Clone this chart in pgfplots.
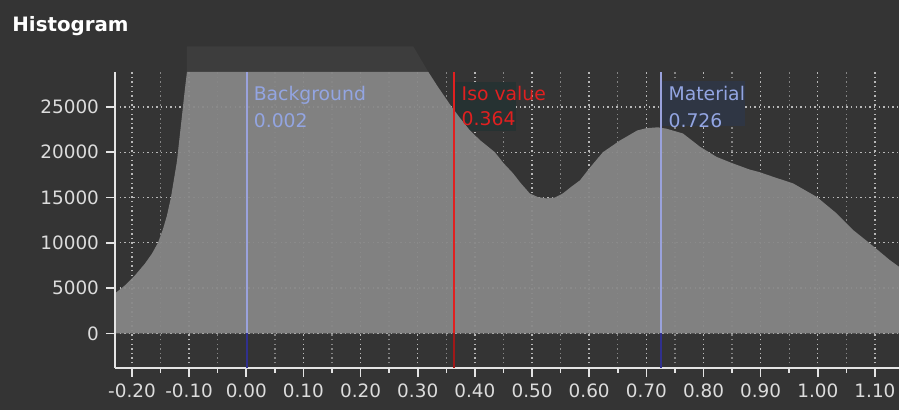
\documentclass[border=0pt]{standalone}
\usepackage{pgfplots}
\pgfplotsset{compat=1.18}
\usepackage{fontspec}
\setmainfont{DejaVu Sans}
\definecolor{bgdark}{HTML}{343434}
\definecolor{overcol}{HTML}{3D3D3D}
\definecolor{histgray}{HTML}{878787}
\definecolor{axiscol}{HTML}{E4E4E4}
\definecolor{labcol}{HTML}{DCDCDC}
\definecolor{gridmaj}{HTML}{B8B8B8}
\definecolor{gridmin}{HTML}{858585}
\definecolor{lav}{HTML}{9AA2DC}
\definecolor{lavdark}{HTML}{30308E}
\definecolor{bluetext}{HTML}{93A5E2}
\definecolor{isored}{HTML}{E02020}
\definecolor{isodark}{HTML}{A01818}
\definecolor{matbox}{HTML}{2F3644}
\definecolor{isobox}{HTML}{263232}
\begin{document}
\begin{tikzpicture}
\useasboundingbox (-57.5pt,-21pt) rectangle (392pt,184pt);
\fill[bgdark] (-57.5pt,-21pt) rectangle (392pt,184pt);
\node[anchor=base west, text=white, font=\bfseries\fontsize{9.9}{11}\selectfont, inner sep=0pt] at (-51.5pt,168pt) {Histogram};
\begin{axis}[
  scale only axis, width=392pt, height=148pt,
  at={(0pt,0pt)}, anchor=south west,
  xmin=-0.2297, xmax=1.1421, ymin=-3830, ymax=28860,
  axis x line=bottom, axis y line=left,
  axis line style={-, draw=axiscol, line width=1pt},
  xtick={-0.2,-0.1,0,0.1,0.2,0.3,0.4,0.5,0.6,0.7,0.8,0.9,1.0,1.1},
  minor x tick num=1,
  ytick={0,5000,10000,15000,20000,25000},
  tick align=outside, major tick length=4.5pt, minor tick length=2.5pt,
  tick style={draw=axiscol, line width=0.8pt},
  xmajorgrids, xminorgrids, ymajorgrids,
  major grid style={draw=gridmaj, line width=0.7pt, dash pattern=on 0.7pt off 1.6pt},
  minor grid style={draw=gridmin, line width=0.7pt, dash pattern=on 0.7pt off 1.6pt},
  ticklabel style={font=\fontsize{9.2}{11}\selectfont, text=labcol},
  xticklabel style={/pgf/number format/fixed, /pgf/number format/fixed zerofill, /pgf/number format/precision=2},
  yticklabel style={/pgf/number format/fixed, /pgf/number format/precision=0, /pgf/number format/1000 sep={}},
  scaled x ticks=false, scaled y ticks=false,
  /pgf/number format/assume math mode=true,
  clip=false,
]
% overflow region above the axis top
\addplot[fill=overcol, draw=none] coordinates {(-0.104,28860) (-0.104,31700) (0.292,31700) (0.3186,28860)} -- cycle;
% text boxes (behind the histogram)
\fill[isobox] (axis cs:0.366,22300) rectangle (axis cs:0.472,27700);
\fill[matbox] (axis cs:0.728,22900) rectangle (axis cs:0.872,27900);
% histogram
\addplot[fill=histgray, fill opacity=0.93, draw=none] coordinates {
(-0.2297,4400) (-0.2122,5300) (-0.1947,6400) (-0.1773,7700) (-0.1650,8800) (-0.1545,10000) (-0.1458,11500) (-0.1388,13000) (-0.1318,15000) (-0.1265,17000) (-0.1213,19000) (-0.1178,21000) (-0.1143,23000) (-0.1108,25000) (-0.1073,27000) (-0.1038,28860)
(0.000,28860) (0.100,28860) (0.200,28860) (0.3186,28860)
(0.335,27250) (0.3594,25000) (0.375,23700) (0.391,22430) (0.409,21330) (0.435,20000) (0.450,18800) (0.467,17650) (0.480,16600) (0.496,15450) (0.510,15050) (0.525,14900) (0.540,15000) (0.554,15450) (0.569,16200) (0.584,16900) (0.600,18200) (0.624,20000) (0.654,21300) (0.684,22400) (0.700,22650) (0.720,22750) (0.735,22600) (0.764,22070) (0.794,20600) (0.823,19480) (0.850,18800) (0.880,18100) (0.898,17800) (0.922,17280) (0.957,16550) (0.998,15070) (1.033,13240) (1.062,11400) (1.091,9930) (1.126,8090) (1.1421,7350)
} \closedcycle;
% redraw y axis line over the fill
\draw[axiscol, line width=1pt] (rel axis cs:0,0) -- (rel axis cs:0,1);
% marker lines
\addplot[draw=lavdark, line width=1pt] coordinates {(0.002,-3830) (0.002,0)};
\addplot[draw=lav, line width=1pt] coordinates {(0.002,0) (0.002,28860)};
\addplot[draw=isodark, line width=1pt] coordinates {(0.364,-3830) (0.364,0)};
\addplot[draw=isored, line width=1pt] coordinates {(0.364,0) (0.364,28860)};
\addplot[draw=lavdark, line width=1pt] coordinates {(0.726,-3830) (0.726,0)};
\addplot[draw=lav, line width=1pt] coordinates {(0.726,0) (0.726,28860)};
% labels
\node[anchor=base west, inner sep=0pt, xshift=3pt, text=bluetext, font=\fontsize{9.4}{11}\selectfont] at (axis cs:0.002,25740) {Background};
\node[anchor=base west, inner sep=0pt, xshift=3pt, text=bluetext, font=\fontsize{9.4}{11}\selectfont] at (axis cs:0.002,22780) {0.002};
\node[anchor=base west, inner sep=0pt, xshift=3.5pt, text=isored, font=\fontsize{9.4}{11}\selectfont] at (axis cs:0.364,25740) {Iso value};
\node[anchor=base west, inner sep=0pt, xshift=3.5pt, text=isored, font=\fontsize{9.4}{11}\selectfont] at (axis cs:0.364,22950) {0.364};
\node[anchor=base west, inner sep=0pt, xshift=3.5pt, text=bluetext, font=\fontsize{9.4}{11}\selectfont] at (axis cs:0.726,25740) {Material};
\node[anchor=base west, inner sep=0pt, xshift=3.5pt, text=bluetext, font=\fontsize{9.4}{11}\selectfont] at (axis cs:0.726,22780) {0.726};
\end{axis}
\end{tikzpicture}
\end{document}
